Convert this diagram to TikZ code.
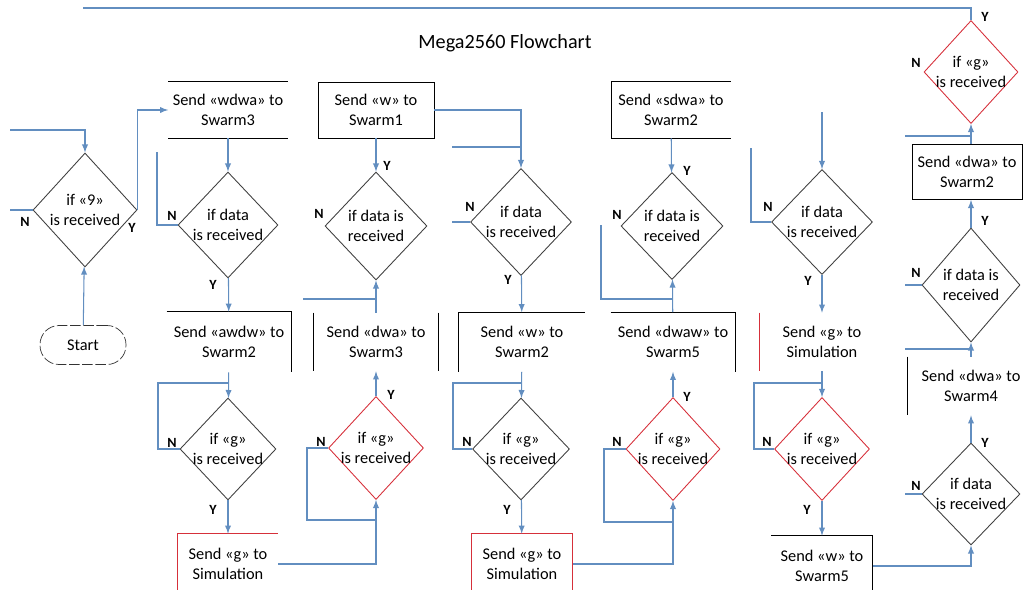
\documentclass[tikz,border=0pt]{standalone}
\usepackage{fontspec}
\setmainfont{Carlito}
\usetikzlibrary{arrows,shapes.geometric}
\definecolor{flowblue}{RGB}{98,142,192}
\definecolor{redline}{RGB}{214,48,58}

\begin{document}
\begin{tikzpicture}[x=0.02cm,y=-0.02cm,>=latex,
	dec/.style={diamond,draw=black!75,line width=0.5pt,minimum width=2cm,minimum height=2.1cm,inner sep=0pt},
	decred/.style={dec,draw=redline,minimum width=1.9cm,minimum height=2.06cm},
	txt/.style={align=center,inner sep=0pt,font=\fontsize{9.3}{11.4}\selectfont},
	box/.style={txt,minimum width=2.4cm,minimum height=1.16cm},
	startbox/.style={txt,draw=black!80,dash pattern=on 6pt off 1.5pt,rounded corners=0.38cm,minimum width=1.72cm,minimum height=0.78cm},
	yn/.style={inner sep=0pt,font=\fontsize{8}{9}\selectfont\bfseries},
	flow/.style={draw=flowblue,line width=0.6pt},
	side/.style={line width=0.5pt}]

		\useasboundingbox (0,0) rectangle (1024,589);

		\node[font=\fontsize{11.5}{13}\selectfont] (title) at (505,43) {Mega2560 Flowchart};

		% first column
		\node[dec,minimum width=2.08cm,minimum height=2.28cm,label={[txt]center:{if «9»\\is received}}] (1) at (85,210) {};
		\node[startbox] (2) at (83,345) {Start};
		\node[box,minimum width=2.38cm,minimum height=1.12cm] (3) at (228,110) {Send «wdwa» to\\Swarm3};
		\node[dec,minimum height=2.12cm,label={[txt]center:{if data\\is received}}] (4) at (228,225) {};
		\node[box,minimum width=2.48cm,minimum height=1.2cm] (5) at (229,342) {Send «awdw» to\\Swarm2};
		\node[dec,minimum width=1.92cm,minimum height=2.04cm,label={[txt]center:{if «g»\\is received}}] (6) at (228,449) {};
		\node[box,minimum width=2cm,minimum height=1.2cm] (7) at (228,564) {Send «g» to\\Simulation};

		% second column
		\node[box,draw,line width=0.5pt,minimum width=2.32cm,minimum height=1.12cm] (8) at (376,110) {Send «w» to\\Swarm1};
		\node[dec,minimum width=2.04cm,minimum height=2.16cm,label={[txt]center:{if data is\\received}}] (9) at (376,226) {};
		\node[box,minimum width=2.48cm] (10) at (376,342) {Send «dwa» to\\Swarm3};
		\node[decred,label={[txt]center:{if «g»\\is received}}] (11) at (376,448) {};

		% third column
		\node[dec,minimum width=2.02cm,minimum height=2.14cm,label={[txt]center:{if data\\is received}}] (12) at (521,222) {};
		\node[box,minimum width=2.52cm,minimum height=1.18cm] (13) at (522,342) {Send «w» to\\Swarm2};
		\node[dec,minimum width=1.94cm,minimum height=2.04cm,label={[txt]center:{if «g»\\is received}}] (14) at (521,449) {};
		\node[box,minimum width=2.02cm,minimum height=1.2cm] (15) at (522,564) {Send «g» to\\Simulation};

		% fourth column
		\node[box,minimum width=2.38cm,minimum height=1.12cm] (16) at (671,110) {Send «sdwa» to\\Swarm2};
		\node[dec,minimum width=2.04cm,minimum height=2.14cm,label={[txt]center:{if data is\\received}}] (17) at (672,226) {};
		\node[box,minimum width=2.48cm,minimum height=1.18cm] (18) at (673,342) {Send «dwaw» to\\Swarm5};
		\node[decred,minimum width=1.88cm,label={[txt]center:{if «g»\\is received}}] (19) at (673,449) {};

		% fifth column
		\node[dec,minimum width=2.02cm,label={[txt]center:{if data\\is received}}] (20) at (822,222) {};
		\node[box,minimum width=2.48cm] (21) at (822,342) {Send «g» to\\Simulation};
		\node[decred,label={[txt]center:{if «g»\\is received}}] (22) at (822,449) {};
		\node[box,minimum width=2.02cm,minimum height=1.2cm] (23) at (822,566) {Send «w» to\\Swarm5};

		% last column, read from the bottom
		\node[decred,minimum width=1.88cm,label={[txt]center:{if «g»\\is received}}] (24) at (971,72) {};
		\node[box,draw,line width=0.5pt,minimum width=2.2cm,minimum height=1.1cm] (25) at (967,172) {Send «dwa» to\\Swarm2};
		\node[dec,minimum width=1.96cm,minimum height=2.28cm,label={[txt]center:{if data is\\received}}] (26) at (971,285) {};
		\node[box,minimum width=2.52cm] (27) at (971,386) {Send «dwa» to\\Swarm4};
		\node[dec,minimum width=1.96cm,minimum height=2.04cm,label={[txt]center:{if data\\is received}}] (28) at (971,494) {};

		% visible sides of the boxes
		\draw[side] (3.north west) -- (3.north east) (3.south west) -- (3.south east);
		\draw[side] (5.north west) -- (5.north east) -- (5.south east);
		\draw[side,draw=redline] (7.south west) -- (7.north west) -- (7.north east);
		\draw[side] (10.north west) -- (10.south west) (10.north east) -- (10.south east);
		\draw[side] (13.south west) -- (13.north west) -- (13.north east);
		\draw[side,draw=redline] (15.south west) -- (15.north west) -- (15.north east) -- (15.south east);
		\draw[side] (16.north east) -- (16.north west) -- (16.south west) -- (16.south east);
		\draw[side] (18.north west) -- (18.north east) -- (18.south east);
		\draw[side,draw=redline] (21.north west) -- (21.south west);
		\draw[side] (23.north west) -- (23.north east) -- (23.south east);
		\draw[side] (27.north west) -- (27.south west);

		% loose ends
		\coordinate (a1) at (10,130);
		\coordinate (a2) at (10,210);
		\coordinate (a3) at (157,152);
		\coordinate (a4) at (158,383);
		\coordinate (a5) at (452,147);
		\coordinate (a6) at (303,299);
		\coordinate (a7) at (307,520);
		\coordinate (a8) at (453,383);
		\coordinate (a9) at (601,225);
		\coordinate (a10) at (601,299);
		\coordinate (a11) at (604,522);
		\coordinate (a12) at (822,112);
		\coordinate (a13) at (751,148);
		\coordinate (a14) at (754,383);
		\coordinate (a15) at (905,349);
		\coordinate (a16) at (905,136);
		\coordinate (a17) at (83,8);

		% connectors
		\draw[flow,->] (a1) -| (1.north);
		\draw[flow] (a2) -- (1.west);
		\draw[flow,->] (2) -- (1);
		\draw[flow,->] (1.east) |- (3.west);
		\draw[flow,->] (3) -- (4);
		\draw[flow] (4.west) -| (a3);
		\draw[flow,->] (4) -- (5);
		\draw[flow,->] (5) -- (6);
		\draw[flow] (6.west) -| (a4) -- (a4 -| 6);
		\draw[flow,->] (6) -- (7);
		\draw[flow,->] (7.east) -| (11.south);
		\draw[flow] (11.west) -| (a7) -- (a7 -| 11);
		\draw[flow,->] (11) -- (10);
		\draw[flow,->] (10) -- (9);
		\draw[flow] (a6) -- (a6 -| 9);
		\draw[flow,->] (8) -- (9);
		\draw[flow,->] (8.east) -| (12.north);
		\draw[flow] (a5) -- (a5 -| 12);
		\draw[flow] (12.west) -- (12.west -| a5);
		\draw[flow,->] (12) -- (13);
		\draw[flow,->] (13) -- (14);
		\draw[flow] (14.west) -| (a8) -- (a8 -| 14);
		\draw[flow,->] (14) -- (15);
		\draw[flow,->] (15.east) -| (19.south);
		\draw[flow] (19.west) -| (a11) -- (a11 -| 19);
		\draw[flow,->] (19) -- (18);
		\draw[flow,->] (18) -- (17);
		\draw[flow] (a9) -- (a10) -- (a10 -| 17);
		\draw[flow,->] (16) -- (17);
		\draw[flow,->] (a12) -- (20.north);
		\draw[flow] (20.west) -| (a13);
		\draw[flow,->] (20) -- (21);
		\draw[flow,->] (21) -- (22);
		\draw[flow] (22.west) -| (a14) -- (a14 -| 22);
		\draw[flow,->] (22) -- (23);
		\draw[flow,->] (23.east) -| (28.south);
		\draw[flow] (28.west) -- (28.west -| a15);
		\draw[flow,->] (28.north) -- (28.north |- 27.south);
		\draw[flow,->] (27.north) -- (26.south);
		\draw[flow] (a15) -- (a15 -| 26);
		\draw[flow] (26.west) -- (26.west -| a15);
		\draw[flow,->] (26.north) -- (26.north |- 25.south);
		\draw[flow,->] (24.south |- 25.north) -- (24.south);
		\draw[flow] (a16) -- (a16 -| 24);
		\draw[flow] (24.north) |- (a17);

		% Y and N
		\node[yn] (n1) at (25,222) {N};
		\node[yn] (y1) at (132,228) {Y};
		\node[yn] (n4) at (172,216) {N};
		\node[yn] (y4) at (213,285) {Y};
		\node[yn] (n6) at (172,443) {N};
		\node[yn] (y6) at (213,510) {Y};
		\node[yn] (y9) at (387,166) {Y};
		\node[yn] (n9) at (319,214) {N};
		\node[yn] (y11) at (391,395) {Y};
		\node[yn] (n11) at (321,442) {N};
		\node[yn] (n12) at (470,207) {N};
		\node[yn] (y12) at (508,280) {Y};
		\node[yn] (n14) at (467,442) {N};
		\node[yn] (y14) at (507,510) {Y};
		\node[yn] (y17) at (687,171) {Y};
		\node[yn] (n17) at (617,215) {N};
		\node[yn] (y19) at (687,397) {Y};
		\node[yn] (n19) at (617,442) {N};
		\node[yn] (n20) at (768,207) {N};
		\node[yn] (y20) at (808,281) {Y};
		\node[yn] (n22) at (767,442) {N};
		\node[yn] (y22) at (807,510) {Y};
		\node[yn] (y24) at (985,17) {Y};
		\node[yn] (n24) at (916,63) {N};
		\node[yn] (y26) at (985,221) {Y};
		\node[yn] (n26) at (916,273) {N};
		\node[yn] (y28) at (985,443) {Y};
		\node[yn] (n28) at (916,486) {N};
\end{tikzpicture}
\end{document}
